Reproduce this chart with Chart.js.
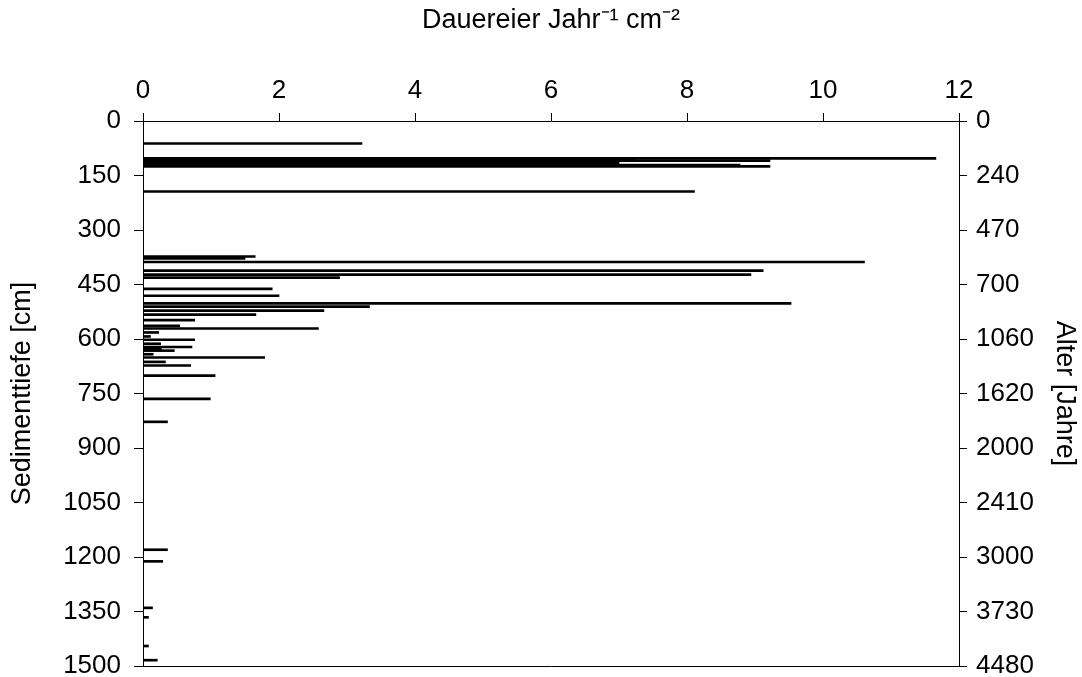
<!DOCTYPE html>
<html>
<head>
<meta charset="utf-8">
<script src="https://cdn.jsdelivr.net/npm/chart.js@4.4.1/dist/chart.umd.min.js"></script>
<style>
  html, body { margin: 0; padding: 0; background: #ffffff; }
  #wrap { width: 1082px; height: 677px; }
</style>
</head>
<body>
<div id="wrap"><canvas id="c" width="1082" height="677"></canvas></div>
<script>
// Sediment depth (cm) of each sample
const depths = [62, 103, 105, 107, 109, 112, 116, 121, 125, 194,
  373, 378, 388, 412, 423, 431, 462, 481, 502, 511, 522, 533, 548, 564, 571,
  582, 593, 602, 613, 622, 627, 632, 642, 651, 663, 673, 701, 765, 828,
  1180, 1212, 1340, 1366, 1445, 1484];
// Resting eggs per year per cm²
const eggs = [3.22, 11.66, 7.23, 4.9, 9.22, 6.9, 7.0, 8.78, 9.22, 8.11,
  1.65, 1.5, 10.61, 9.12, 8.94, 2.89, 1.9, 2.0, 9.53, 3.33, 2.66, 1.66, 0.76, 0.54, 2.58,
  0.23, 0.11, 0.76, 0.26, 0.72, 0.27, 0.46, 0.15, 1.79, 0.33, 0.70, 1.06, 0.99, 0.36,
  0.36, 0.29, 0.14, 0.08, 0.08, 0.21];
// Depth ticks and matching age labels (right axis)
const depthTicks = [0, 150, 300, 450, 600, 750, 900, 1050, 1200, 1350, 1500];
const ageLabels = ['0', '240', '470', '700', '1060', '1620', '2000', '2410', '3000', '3730', '4480'];
const xTicks = [0, 2, 4, 6, 8, 10, 12];
const xTitle = 'Dauereier Jahr\u207B\u00B9 cm\u207B\u00B2';
const yTitle = 'Sedimenttiefe [cm]';
const y2Title = 'Alter [Jahre]';

Chart.defaults.font.family = "'Liberation Sans', Arial, sans-serif";
Chart.defaults.color = '#000';

const tickFont = { size: 26 };
const titleFont = { size: 27 };

const points = depths.map((d, i) => ({ x: eggs[i], y: d }));

const noPad = s => { s.paddingTop = 0; s.paddingBottom = 0; };

new Chart(document.getElementById('c'), {
  type: 'bar',
  data: {
    datasets: [{
      data: points,
      backgroundColor: '#000',
      borderWidth: 0,
      barThickness: 2,
      grouped: false,
      xAxisID: 'x',
      yAxisID: 'y'
    }]
  },
  options: {
    indexAxis: 'y',
    responsive: false,
    animation: false,
    layout: { padding: 0 },
    plugins: { legend: { display: false }, tooltip: { enabled: false } },
    scales: {
      x: {
        type: 'linear', position: 'top', min: 0, max: 12,
        afterBuildTicks: s => { s.ticks = xTicks.map(v => ({ value: v })); },
        ticks: { font: tickFont, color: '#000', padding: 7, maxRotation: 0, callback: v => String(v) },
        grid: { offset: false, drawOnChartArea: false, drawTicks: true, tickLength: 8, tickColor: '#000', tickWidth: 1 },
        border: { display: true, color: '#000', width: 1 },
        title: { display: true, text: xTitle, font: titleFont, color: '#000', padding: { top: 4, bottom: 0 } },
        afterFit: s => { s.height = 121; }
      },
      x2: {
        type: 'linear', position: 'bottom', min: 0, max: 12,
        ticks: { display: false },
        grid: { offset: false, drawOnChartArea: false, drawTicks: false },
        border: { display: true, color: '#000', width: 1 },
        afterFit: s => { s.height = 11; }
      },
      y: {
        type: 'linear', position: 'left', min: 0, max: 1500, reverse: true, offset: false,
        afterBuildTicks: s => { s.ticks = depthTicks.map(v => ({ value: v })); },
        ticks: { font: tickFont, color: '#000', padding: 13, callback: v => String(v) },
        grid: { offset: false, drawOnChartArea: false, drawTicks: true, tickLength: 9, tickColor: '#000', tickWidth: 1 },
        border: { display: true, color: '#000', width: 1 },
        title: { display: true, text: yTitle, font: titleFont, color: '#000', padding: { top: 6, bottom: 0 } },
        afterFit: s => { s.width = 143; noPad(s); }
      },
      y2: {
        type: 'linear', position: 'right', min: 0, max: 1500, reverse: true, offset: false,
        afterBuildTicks: s => { s.ticks = depthTicks.map(v => ({ value: v })); },
        ticks: {
          font: tickFont, color: '#000', padding: 9,
          callback: v => { const i = depthTicks.indexOf(v); return i >= 0 ? ageLabels[i] : ''; }
        },
        grid: { offset: false, drawOnChartArea: false, drawTicks: true, tickLength: 8, tickColor: '#000', tickWidth: 1 },
        border: { display: true, color: '#000', width: 1 },
        title: { display: true, text: y2Title, font: titleFont, color: '#000', padding: { top: 1, bottom: 0 } },
        afterFit: s => { s.width = 123; noPad(s); }
      }
    }
  }
});
</script>
</body>
</html>
